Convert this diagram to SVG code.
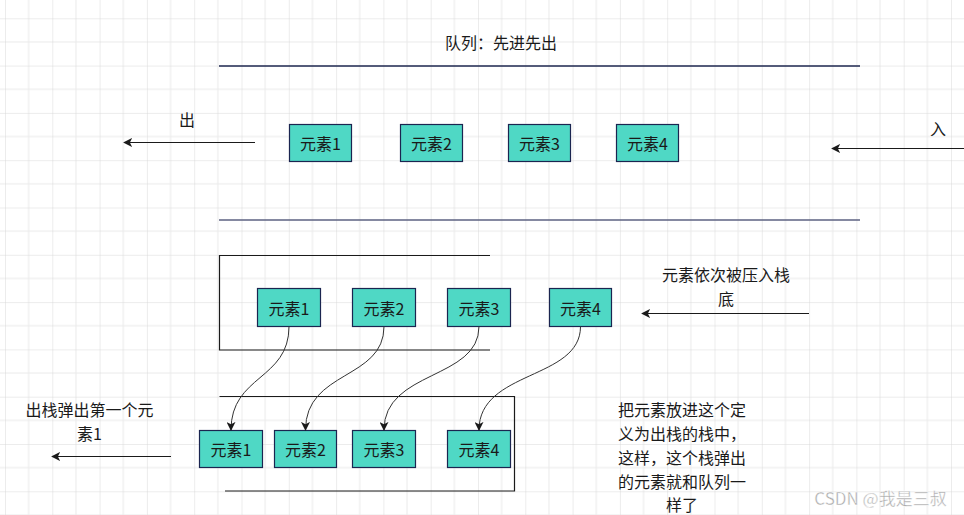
<svg xmlns="http://www.w3.org/2000/svg" width="964" height="515" viewBox="0 0 964 515">
<style>
.box{fill:#4fd8c5;stroke:#1b2550;stroke-width:1.2}
.bt{font-family:"Noto Sans CJK SC","Noto Sans",sans-serif;font-size:16px;fill:#1a1a1a;text-anchor:middle;dominant-baseline:central}
.lbl{font-family:"Noto Sans CJK SC","Noto Sans",sans-serif;font-size:16px;fill:#1a1a1a;text-anchor:middle;dominant-baseline:central}
.ln{fill:none;stroke:#1a1a1a;stroke-width:1.2}
.cv{fill:none;stroke:#333;stroke-width:1}
</style>
<defs>
<pattern id="grid" x="5" y="18.3" width="47.3" height="47.3" patternUnits="userSpaceOnUse">
<path d="M23.65 0V47.3M0 23.65H47.3" stroke="#eaeaea" stroke-width="1" fill="none"/>
<path d="M0 0V47.3M0 0H47.3" stroke="#d9d9d9" stroke-width="1" fill="none"/>
</pattern>
<marker id="ah" viewBox="0 0 10 10" refX="9" refY="5" markerWidth="9" markerHeight="9" markerUnits="userSpaceOnUse" orient="auto">
<path d="M0 0L10 5L0 10L2.5 5Z" fill="#1a1a1a"/>
</marker>
</defs>
<rect width="964" height="515" fill="#ffffff"/>
<rect width="964" height="515" fill="url(#grid)"/>

<g id="queue-frame">
<line x1="219" y1="66" x2="860" y2="66" stroke="#1f2850" stroke-width="1.5"/>
<line x1="219" y1="220" x2="860" y2="220" stroke="#5c6282" stroke-width="1.5"/>
</g>
<g id="title"><text class="lbl" x="501" y="42">队列：先进先出</text></g>

<g id="q1"><rect class="box" x="289.5" y="124.5" width="62" height="37"/><text class="bt" x="320.5" y="143">元素1</text></g>
<g id="q2"><rect class="box" x="400.5" y="124.5" width="62" height="37"/><text class="bt" x="431.5" y="143">元素2</text></g>
<g id="q3"><rect class="box" x="508.5" y="124.5" width="62" height="37"/><text class="bt" x="539.5" y="143">元素3</text></g>
<g id="q4"><rect class="box" x="616.5" y="124.5" width="62" height="37"/><text class="bt" x="647.5" y="143">元素4</text></g>

<g id="out-label"><text class="lbl" x="187" y="119">出</text></g>
<g id="in-label"><text class="lbl" x="938" y="128">入</text></g>

<g id="stack-top">
<path class="ln" d="M490 255.5H219.5V350H490"/>
</g>
<g id="s1"><rect class="box" x="257.5" y="288.5" width="63" height="38"/><text class="bt" x="289" y="307.5">元素1</text></g>
<g id="s2"><rect class="box" x="352.5" y="288.5" width="63" height="38"/><text class="bt" x="384" y="307.5">元素2</text></g>
<g id="s3"><rect class="box" x="447.5" y="288.5" width="63" height="38"/><text class="bt" x="479" y="307.5">元素3</text></g>
<g id="s4"><rect class="box" x="549.5" y="288.5" width="62" height="38"/><text class="bt" x="580.5" y="307.5">元素4</text></g>

<g id="push-label"><text class="lbl" x="726" y="274">元素依次被压入栈</text><text class="lbl" x="726" y="298">底</text></g>

<g id="stack-bottom">
<path class="ln" d="M219.5 396.5H514.5V491H225"/>
</g>
<g id="b1"><rect class="box" x="199.5" y="430.5" width="63" height="37"/><text class="bt" x="231" y="449">元素1</text></g>
<g id="b2"><rect class="box" x="274.5" y="430.5" width="62" height="37"/><text class="bt" x="305.5" y="449">元素2</text></g>
<g id="b3"><rect class="box" x="352.5" y="430.5" width="63" height="37"/><text class="bt" x="384" y="449">元素3</text></g>
<g id="b4"><rect class="box" x="447.5" y="430.5" width="63" height="37"/><text class="bt" x="479" y="449">元素4</text></g>

<g id="pop-label"><text class="lbl" x="89.5" y="409">出栈弹出第一个元</text><text class="lbl" x="89.5" y="433">素1</text></g>

<g id="note">
<text class="lbl" x="682" y="409">把元素放进这个定</text>
<text class="lbl" x="682" y="433">义为出栈的栈中，</text>
<text class="lbl" x="682" y="457">这样，这个栈弹出</text>
<text class="lbl" x="682" y="481">的元素就和队列一</text>
<text class="lbl" x="682" y="504">样了</text>
</g>

<g id="connectors">
<line class="ln" x1="255" y1="142.5" x2="124" y2="142.5" marker-end="url(#ah)"/>
<line class="ln" x1="964" y1="148.5" x2="832" y2="148.5" marker-end="url(#ah)"/>
<line class="ln" x1="809" y1="313.5" x2="642" y2="313.5" marker-end="url(#ah)"/>
<line class="ln" x1="171" y1="456.5" x2="52" y2="456.5" marker-end="url(#ah)"/>
<path class="cv" d="M289 326.5C289 380 231 375 231 430" marker-end="url(#ah)"/>
<path class="cv" d="M384 326.5C384 380 305.5 370 305.5 430" marker-end="url(#ah)"/>
<path class="cv" d="M479 326.5C479 380 384 370 384 430" marker-end="url(#ah)"/>
<path class="cv" d="M580.5 326.5C580.5 380 479 370 479 430" marker-end="url(#ah)"/>
</g>

<g id="watermark"><text x="880.5" y="497" font-family="'Noto Sans CJK SC','Noto Sans',sans-serif" font-size="17" fill="#a8a8a8" stroke="#ffffff" stroke-width="0.4" text-anchor="middle" dominant-baseline="central">CSDN @我是三叔</text></g>
</svg>
